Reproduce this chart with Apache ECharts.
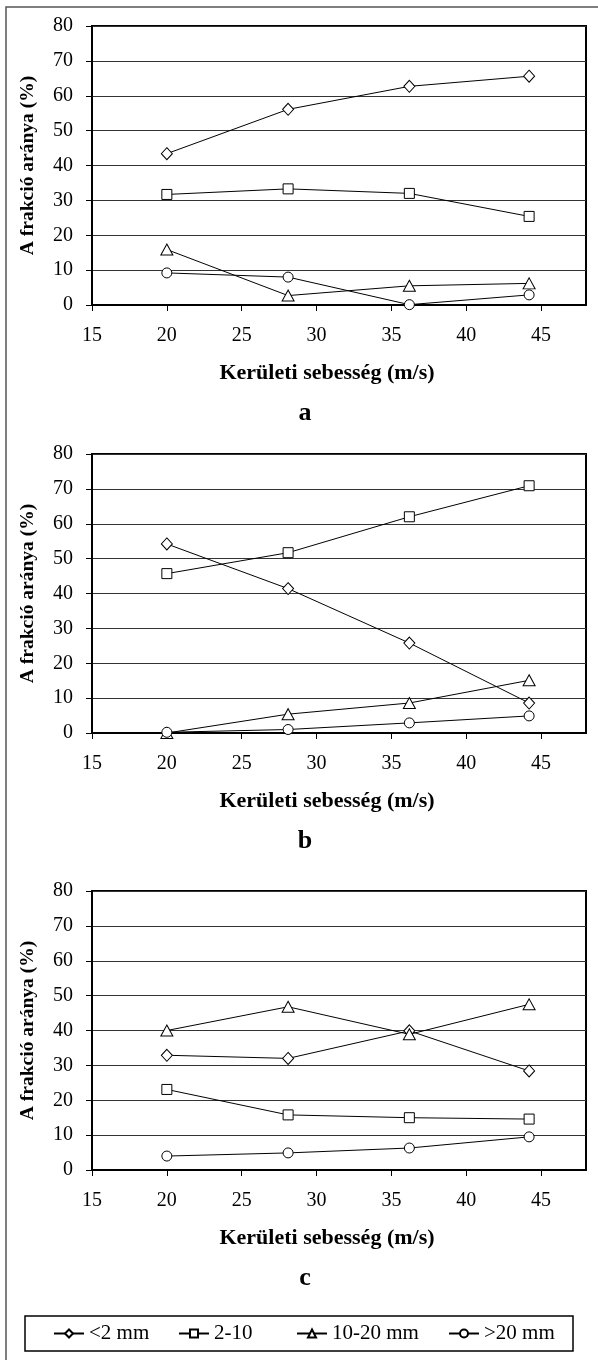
<!DOCTYPE html>
<html>
<head>
<meta charset="utf-8">
<script src="https://cdn.jsdelivr.net/npm/echarts@6/dist/echarts.min.js"></script>
<style>
html,body{margin:0;padding:0;background:#fff;}
#chart{width:598px;height:1360px;}
</style>
</head>
<body>
<div id="chart"></div>
<script>
// ---- data ----
const speeds = [20, 28.1, 36.2, 44.2];
const seriesNames = ['<2 mm', '2-10', '10-20 mm', '>20 mm'];
const panelLabels = ['a', 'b', 'c'];
const xTickValues = [15, 20, 25, 30, 35, 40, 45];
const yTickValues = [0, 10, 20, 30, 40, 50, 60, 70, 80];

const a_lt2 = [43.4, 56.1, 62.7, 65.6];
const a_2to10 = [31.7, 33.3, 32.0, 25.4];
const a_10to20 = [15.9, 2.7, 5.5, 6.2];
const a_gt20 = [9.2, 8.0, 0.1, 2.9];

const b_lt2 = [54.2, 41.4, 25.8, 8.6];
const b_2to10 = [45.7, 51.7, 62.0, 70.9];
const b_10to20 = [0.0, 5.4, 8.6, 15.1];
const b_gt20 = [0.2, 1.0, 2.9, 4.9];

const c_lt2 = [32.9, 32.0, 39.9, 28.4];
const c_2to10 = [23.1, 15.8, 15.0, 14.6];
const c_10to20 = [40.0, 46.8, 38.9, 47.5];
const c_gt20 = [4.0, 4.9, 6.3, 9.5];

const panels = [
  [a_lt2, a_2to10, a_10to20, a_gt20],
  [b_lt2, b_2to10, b_10to20, b_gt20],
  [c_lt2, c_2to10, c_10to20, c_gt20]
];

// ---- styling / layout ----
const FONT = 'Liberation Serif';
const symbols = ['diamond', 'rect', 'triangle', 'circle'];
const symbolSizes = [[11, 12], [10, 10], [12, 11], [10, 10]];
const gridTops = [26, 454, 891];
const gridHeight = 279;
const gridLeft = 92;
const gridRight = 12;
const legendLefts = [53, 178, 296, 448];

const grids = [], xAxes = [], yAxes = [], series = [], graphics = [], legends = [];

gridTops.forEach((top, i) => {
  grids.push({left: gridLeft, right: gridRight, top: top, height: gridHeight,
    show: true, borderColor: '#000', borderWidth: 2, backgroundColor: 'transparent'});
  xAxes.push({
    type: 'value', gridIndex: i, min: 15, max: 48, interval: 5,
    name: 'Kerületi sebesség (m/s)', nameLocation: 'middle', nameGap: 57,
    nameTextStyle: {fontFamily: FONT, fontWeight: 'bold', fontSize: 22, color: '#000', padding: [0, 24, 0, 0]},
    axisLine: {show: true, onZero: false, lineStyle: {color: '#000', width: 2}},
    axisTick: {show: true, length: 6, lineStyle: {color: '#000', width: 1}, customValues: xTickValues},
    axisLabel: {fontFamily: FONT, fontSize: 20, color: '#000', margin: 21, customValues: xTickValues},
    splitLine: {show: false}
  });
  yAxes.push({
    type: 'value', gridIndex: i, min: 0, max: 80, interval: 10,
    name: 'A frakció aránya (%)', nameLocation: 'middle', nameGap: 54, nameRotate: 90,
    nameTextStyle: {fontFamily: FONT, fontWeight: 'bold', fontSize: 19.5, color: '#000'},
    axisLine: {show: true, lineStyle: {color: '#000', width: 2}},
    axisTick: {show: true, length: 6, lineStyle: {color: '#000', width: 1}},
    axisLabel: {fontFamily: FONT, fontSize: 20, color: '#000', margin: 19},
    splitLine: {show: true, lineStyle: {color: '#333', width: 1}}
  });
  panels[i].forEach((vals, s) => {
    series.push({
      type: 'line', name: seriesNames[s], xAxisIndex: i, yAxisIndex: i,
      data: speeds.map((x, k) => [x, vals[k]]),
      symbol: symbols[s], symbolSize: symbolSizes[s], showSymbol: true, clip: false,
      lineStyle: {color: '#000', width: 1},
      itemStyle: {color: '#fff', borderColor: '#000', borderWidth: 1},
      emphasis: {disabled: true}, animation: false, z: 3 + s
    });
  });
  graphics.push({
    type: 'text',
    style: {x: 305, y: top + gridHeight + 108, text: panelLabels[i],
      font: 'bold 26px "' + FONT + '"', fill: '#000', align: 'center', verticalAlign: 'middle'}
  });
});

seriesNames.forEach((name, s) => {
  legends.push({
    data: [name], left: legendLefts[s], top: 1323, itemWidth: 30, itemHeight: 10, itemGap: 0,
    textStyle: {fontFamily: FONT, fontSize: 21, color: '#000'},
    selectedMode: false, padding: 0
  });
});

// outer frame and legend box
graphics.push({type: 'rect', shape: {x: 6, y: 7, width: 700, height: 1400},
  style: {fill: 'none', stroke: '#555', lineWidth: 1.5}, silent: true, z: -1});
graphics.push({type: 'rect', shape: {x: 25, y: 1316, width: 548, height: 35},
  style: {fill: 'none', stroke: '#000', lineWidth: 1.5}, silent: true});

const chart = echarts.init(document.getElementById('chart'), null, {renderer: 'canvas'});
chart.setOption({
  animation: false,
  grid: grids, xAxis: xAxes, yAxis: yAxes, series: series,
  legend: legends,
  graphic: graphics
});
</script>
</body>
</html>
